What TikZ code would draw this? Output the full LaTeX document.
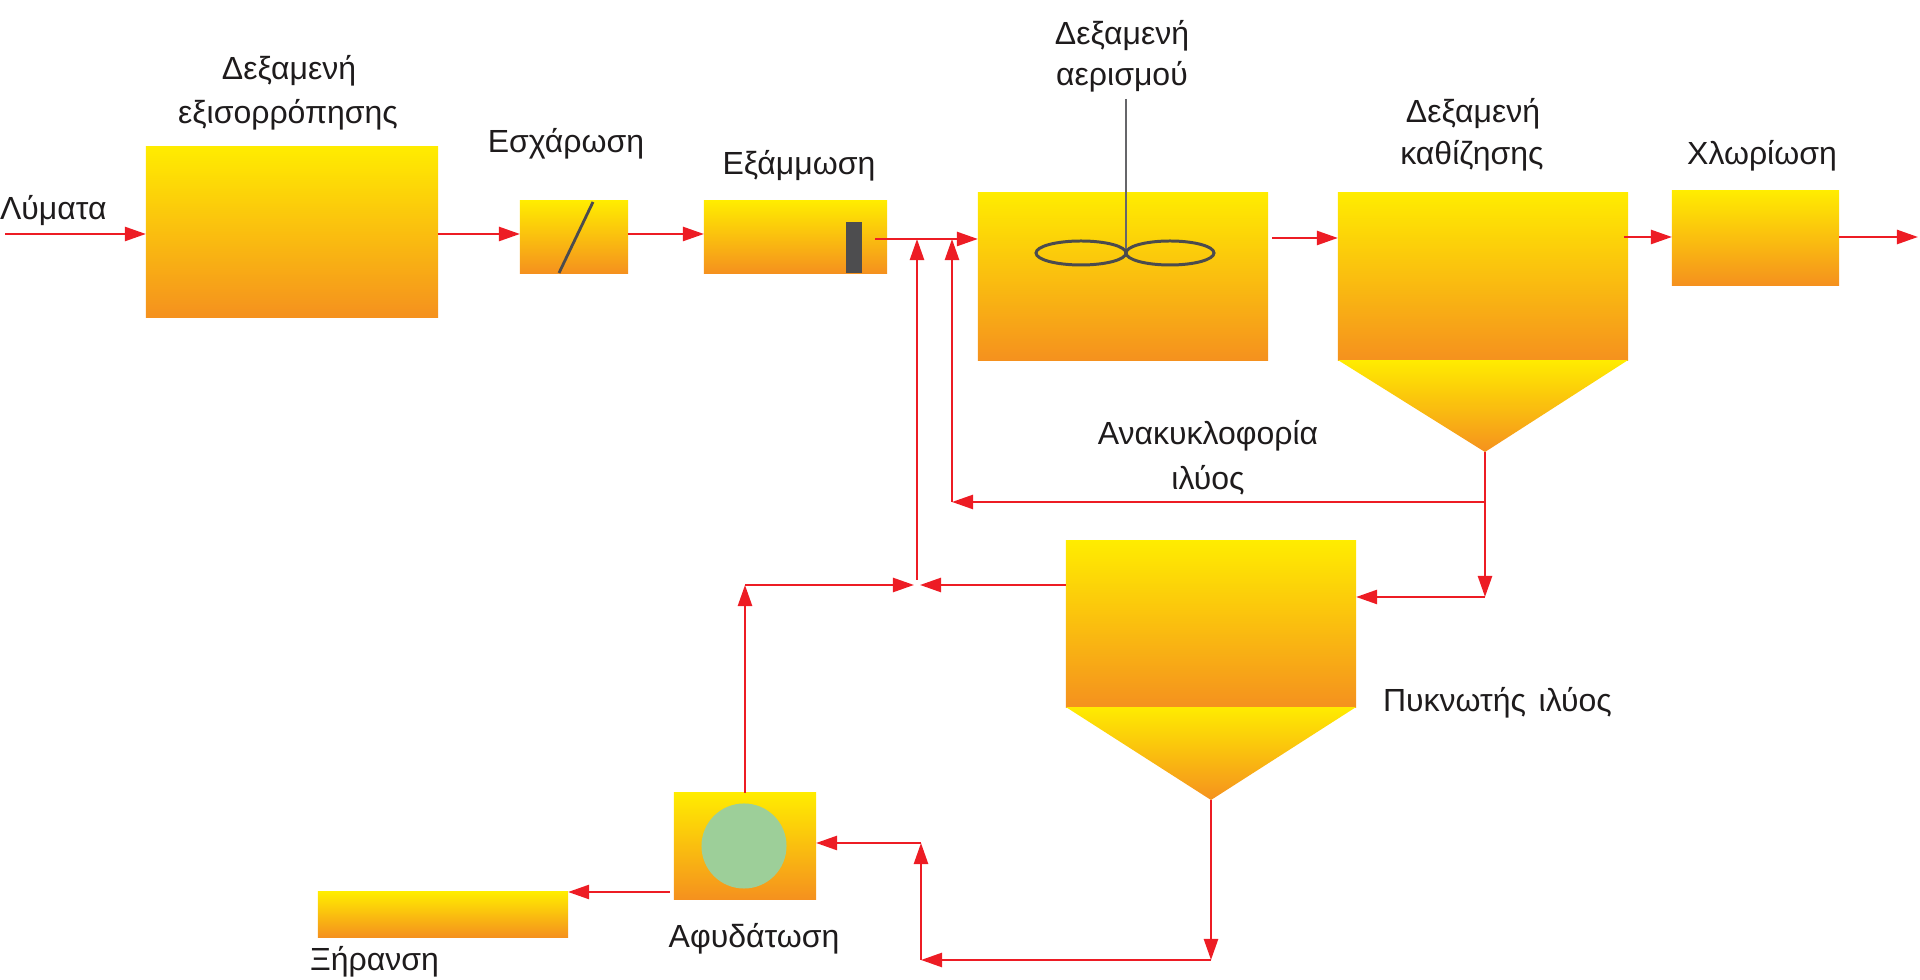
\documentclass[tikz,border=0pt]{standalone}
\usepackage{fontspec}
\setmainfont{Liberation Sans}
\usetikzlibrary{arrows.meta}
\definecolor{ytop}{RGB}{255,236,0}
\definecolor{ymid}{RGB}{254,200,12}
\definecolor{ybot}{RGB}{245,145,30}
\definecolor{flowred}{RGB}{237,28,36}
\definecolor{txt}{RGB}{30,27,28}
\definecolor{darkbar}{RGB}{77,77,79}
\definecolor{discgreen}{RGB}{157,207,153}
\definecolor{paddle}{RGB}{75,75,78}
\begin{document}
\begin{tikzpicture}[x=0.01cm,y=-0.01cm,
  tank/.style={draw=none, inner sep=0pt, outer sep=0pt, rectangle,
    top color=ytop, middle color=ymid, bottom color=ybot},
  cone/.style={top color=ytop, bottom color=ybot},
  flow/.style={draw=flowred, line width=0.7pt, -{Triangle[length=6pt,width=4pt]}},
  pipe/.style={draw=flowred, line width=0.7pt},
  lbl/.style={font=\fontsize{9.1}{11}\selectfont, text=txt, inner sep=0pt, outer sep=0pt}]
\useasboundingbox (0,0) rectangle (1920,980);

% ---- process units ----
\node[tank, minimum width=29.2mm, minimum height=17mm] (eq) at (292,232) {};
\node[tank, minimum width=10.8mm, minimum height=7.2mm] (scr) at (574,237) {};
\node[tank, minimum width=18.3mm, minimum height=7.2mm] (grit) at (795.5,237) {};
\node[tank, minimum width=29mm, minimum height=16.7mm] (aer) at (1123,276.5) {};
\node[tank, minimum width=29mm, minimum height=16.7mm] (set) at (1483,276.5) {};
\coordinate (apexS) at (1485,452);
\path[cone] (set.south west) -- (set.south east) -- (apexS) -- cycle;
\node[tank, minimum width=16.7mm, minimum height=9.4mm] (chl) at (1755.5,238) {};
\node[tank, minimum width=29mm, minimum height=16.6mm] (thick) at (1211,624) {};
\coordinate (apexT) at (1211,800);
\path[cone] (thick.south west) -- (thick.south east) -- (apexT) -- cycle;
\node[tank, minimum width=14.2mm, minimum height=10.6mm] (dew) at (745,846) {};
\node[circle, fill=discgreen, draw=none, minimum size=8.5mm, inner sep=0pt] (disc) at (744,846) {};
\node[tank, minimum width=25mm, minimum height=4.5mm] (dry) at (443,914.5) {};

% details inside units
\draw[paddle, line width=0.8pt] (559,273) -- (593,202);
\fill[darkbar] (846,222) rectangle (862,273);
\draw[paddle!85!white, line width=0.45pt] (1126,99) -- (1126,252);
\draw[paddle, line width=0.85pt] (1081,253) ellipse [x radius=45, y radius=12];
\draw[paddle, line width=0.85pt] (1170,253) ellipse [x radius=44, y radius=12];

% ---- levels / free ends ----
\coordinate (L1) at (0,234);
\coordinate (L2) at (0,239);
\coordinate (L3) at (0,238);
\coordinate (L4) at (0,237);
\coordinate (in0) at (5,234);
\coordinate (out1) at (1918,237);
\coordinate (r1) at (1485,502);
\coordinate (r2) at (952,502);
\coordinate (r3) at (1485,597);
\coordinate (J) at (917,585);
\coordinate (Jl) at (914,585);
\coordinate (Jr) at (920,585);
\coordinate (Jt) at (917,580);
\coordinate (T1) at (1211,960);
\coordinate (T2) at (921,960);
\coordinate (Dl) at (0,843);
\coordinate (Dd) at (0,892);

% ---- main line ----
\draw[flow] (in0) -- (eq.west |- L1);
\draw[flow] (eq.east |- L1) -- (scr.west |- L1);
\draw[flow] (scr.east |- L1) -- (grit.west |- L1);
\draw[flow] ([xshift=-1.2mm]grit.east |- L2) -- (aer.west |- L2);
\draw[flow] ([xshift=0.4mm]aer.east |- L3) -- (set.west |- L3);
\draw[flow] ([xshift=-0.4mm]set.east |- L4) -- (chl.west |- L4);
\draw[flow] (chl.east |- L4) -- (out1);

% ---- sludge recirculation ----
\draw[pipe] (apexS) -- (r1);
\draw[flow] (r1) -- (r2);
\draw[flow] (r2) -- (r2 |- L2);
\draw[flow] (r1) -- (r3);
\draw[flow] (r3) -- (thick.east |- r3);

% ---- thickener / dewatering ----
\draw[flow] (thick.west |- J) -- (Jr);
\draw[flow] (dew.north) -- (dew.north |- J);
\draw[flow] (dew.north |- J) -- (Jl);
\draw[flow] (Jt) -- (Jt |- L2);
\draw[flow] (apexT) -- (T1);
\draw[flow] (T1) -- (T2);
\draw[flow] (T2) -- (T2 |- Dl);
\draw[flow] (T2 |- Dl) -- (dew.east |- Dl);
\draw[flow] ([xshift=-0.4mm]dew.west |- Dd) -- (dry.east |- Dd);

% ---- labels ----
\node[lbl, anchor=base west] (tin) at (0,220) {Λύματα};
\node[lbl, anchor=base] (teq1) at (289,80) {Δεξαμενή};
\node[lbl, anchor=base] (teq2) at (288,124) {εξισορρόπησης};
\node[lbl, anchor=base] (tscr) at (566,153) {Εσχάρωση};
\node[lbl, anchor=base] (tgrit) at (799,175) {Εξάμμωση};
\node[lbl, anchor=base] (taer1) at (1122,45) {Δεξαμενή};
\node[lbl, anchor=base] (taer2) at (1122,86) {αερισμού};
\node[lbl, anchor=base] (tset1) at (1473,123) {Δεξαμενή};
\node[lbl, anchor=base] (tset2) at (1472,165) {καθίζησης};
\node[lbl, anchor=base] (tchl) at (1762,165) {Χλωρίωση};
\node[lbl, anchor=base] (trec1) at (1208,445) {Ανακυκλοφορία};
\node[lbl, anchor=base] (trec2) at (1208,490) {ιλύος};
\node[lbl, anchor=base west] (tthick) at (1383,712) {Πυκνωτής\hspace{0.12em} ιλύος};
\node[lbl, anchor=base] (tdew) at (754,948) {Αφυδάτωση};
\node[lbl, anchor=base west] (tdry) at (310,971) {Ξήρανση};
\end{tikzpicture}
\end{document}
